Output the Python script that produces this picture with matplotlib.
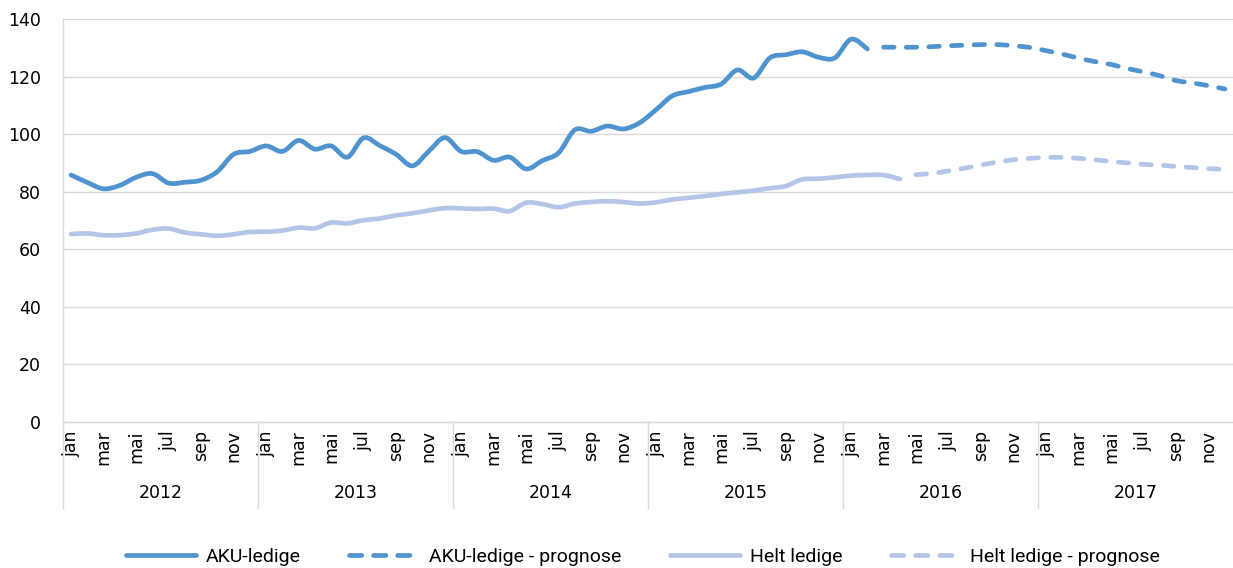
import matplotlib
matplotlib.use("Agg")
import matplotlib.pyplot as plt
import matplotlib.transforms as mtransforms
from matplotlib.lines import Line2D
from matplotlib.path import Path
from matplotlib.patches import PathPatch

plt.rcParams["font.family"] = ["DejaVu Sans"]

# ---- data ----
years = ["2012", "2013", "2014", "2015", "2016", "2017"]
month_names = ["jan", "feb", "mar", "apr", "mai", "jun",
               "jul", "aug", "sep", "okt", "nov", "des"]

# AKU-ledige, jan 2012 - feb 2016 (actual)
aku_actual = [85.8, 83.2, 81.0, 82.2, 85.0, 86.3, 83.0, 83.3, 84.0, 87.0, 93.0, 94.0,
              95.9, 94.0, 97.8, 94.8, 95.9, 92.0, 98.7, 96.0, 93.0, 89.0, 94.0, 98.8,
              94.0, 93.9, 90.9, 92.0, 87.9, 90.8, 93.5, 101.5, 101.0, 102.8, 101.8, 104.0,
              108.5, 113.3, 114.8, 116.2, 117.4, 122.3, 119.5, 126.5, 127.6, 128.6, 126.7, 126.5,
              133.0, 129.6]
# AKU-ledige prognose, mar 2016 - dec 2017
aku_prognose = [130.2, 130.2, 130.2, 130.4, 130.7, 130.9, 131.1, 131.1, 130.7, 130.1,
                129.0, 127.8, 126.4, 125.2, 124.2, 122.8, 121.6, 120.3, 118.6, 117.8,
                116.8, 115.7]
# Helt ledige, jan 2012 - apr 2016 (actual)
helt_actual = [65.3, 65.5, 64.9, 64.9, 65.5, 66.8, 67.2, 65.8, 65.2, 64.7, 65.2, 66.0,
               66.1, 66.5, 67.5, 67.3, 69.3, 69.0, 70.1, 70.7, 71.8, 72.5, 73.5, 74.3,
               74.2, 74.0, 74.1, 73.3, 76.2, 75.7, 74.6, 75.9, 76.4, 76.7, 76.4, 75.9,
               76.3, 77.3, 77.9, 78.5, 79.2, 79.8, 80.4, 81.2, 82.0, 84.3, 84.5, 85.0,
               85.6, 85.8, 85.8, 84.4]
# Helt ledige prognose, mai 2016 - dec 2017
helt_prognose = [85.9, 86.4, 87.2, 88.2, 89.3, 90.3, 91.1, 91.6, 91.9, 91.9,
                 91.6, 91.1, 90.5, 90.0, 89.5, 89.2, 88.8, 88.4, 88.0, 87.8]

series_labels = ["AKU-ledige", "AKU-ledige - prognose", "Helt ledige", "Helt ledige - prognose"]
yticks = [0, 20, 40, 60, 80, 100, 120, 140]

# ---- styling ----
dark = "#4f94cf"
light = "#b4c6e7"
grid_c = "#d9d9d9"
lw = 3.4
dash_on, dash_off = 7.5, 8.8   # points
fs = 12.5

n_months = len(years) * 12
x_all = list(range(n_months))
x_aku_a = x_all[:len(aku_actual)]
x_aku_p = x_all[n_months - len(aku_prognose):]
x_helt_a = x_all[:len(helt_actual)]
x_helt_p = x_all[n_months - len(helt_prognose):]


def smooth_path(xs, ys, t=1.0):
    """Smoothed (Catmull-Rom style Bezier) rendering path through the data points."""
    verts = [(xs[0], ys[0])]
    codes = [Path.MOVETO]
    n = len(xs)
    for i in range(n - 1):
        x0, y0 = (xs[i - 1], ys[i - 1]) if i > 0 else (xs[i], ys[i])
        x1, y1 = xs[i], ys[i]
        x2, y2 = xs[i + 1], ys[i + 1]
        x3, y3 = (xs[i + 2], ys[i + 2]) if i + 2 < n else (xs[i + 1], ys[i + 1])
        c1 = (x1 + (x2 - x0) / 6 * t, y1 + (y2 - y0) / 6 * t)
        c2 = (x2 - (x3 - x1) / 6 * t, y2 - (y3 - y1) / 6 * t)
        verts += [c1, c2, (x2, y2)]
        codes += [Path.CURVE4] * 3
    return Path(verts, codes)


W, H = 1233, 568
fig = plt.figure(figsize=(W / 100, H / 100), dpi=100)
ax = fig.add_axes([63 / W, 1 - 422 / H, 1 - 63 / W, (422 - 19) / H])

specs = [
    (x_helt_a, helt_actual, light, "-", 3),
    (x_helt_p, helt_prognose, light, (0, (dash_on / lw, dash_off / lw)), 3),
    (x_aku_a, aku_actual, dark, "-", 4),
    (x_aku_p, aku_prognose, dark, (0, (dash_on / lw, dash_off / lw)), 4),
]
for xs, ys, col, ls, z in specs:
    p = PathPatch(smooth_path(xs, ys), facecolor="none", edgecolor=col, lw=lw,
                  linestyle=ls, capstyle="round", joinstyle="round", zorder=z)
    ax.add_patch(p)

ax.set_xlim(-0.5, n_months - 0.5)
ax.set_ylim(0, 140)
ax.set_yticks(yticks)
ax.tick_params(axis="y", length=0, pad=16, labelsize=fs, colors="black")
ax.grid(axis="y", color=grid_c, lw=1.0)
ax.set_axisbelow(True)

ax.set_xticks(x_all[::2])
ax.set_xticklabels([month_names[i % 12] for i in x_all[::2]], rotation=90, fontsize=fs)
ax.tick_params(axis="x", length=0, pad=6)

for s in ["top", "right"]:
    ax.spines[s].set_visible(False)
ax.spines["left"].set_color(grid_c)
ax.spines["bottom"].set_color(grid_c)
ax.spines["left"].set_linewidth(1.0)
ax.spines["bottom"].set_linewidth(1.0)

# year separators and labels
trans = mtransforms.blended_transform_factory(ax.transData, fig.transFigure)
y_top = 1 - 422 / H
y_bot = 1 - 508 / H
for k, yr in enumerate(years):
    xs = 12 * k - 0.5
    fig.add_artist(Line2D([xs, xs], [y_bot, y_top], transform=trans, color=grid_c, lw=1.0,
                          clip_on=False))
    fig.text(12 * k + 5.5, 1 - 493 / H, yr, transform=trans, ha="center", va="center",
             fontsize=fs)

# legend (proxy handles with the same styles)
handles = [
    Line2D([], [], color=dark, lw=lw, solid_capstyle="round"),
    Line2D([], [], color=dark, lw=lw, dashes=(2.6, 2.5), dash_capstyle="round"),
    Line2D([], [], color=light, lw=lw, solid_capstyle="round"),
    Line2D([], [], color=light, lw=lw, dashes=(2.6, 2.5), dash_capstyle="round"),
]
leg = fig.legend(handles, series_labels, loc="center",
                 bbox_to_anchor=(643 / W, 1 - 557 / H), ncol=4, frameon=False,
                 prop={"family": ["Roboto", "DejaVu Sans"], "size": 14},
                 handlelength=3.6, handletextpad=0.5, columnspacing=2.5)

fig.savefig("out.png", dpi=100)
